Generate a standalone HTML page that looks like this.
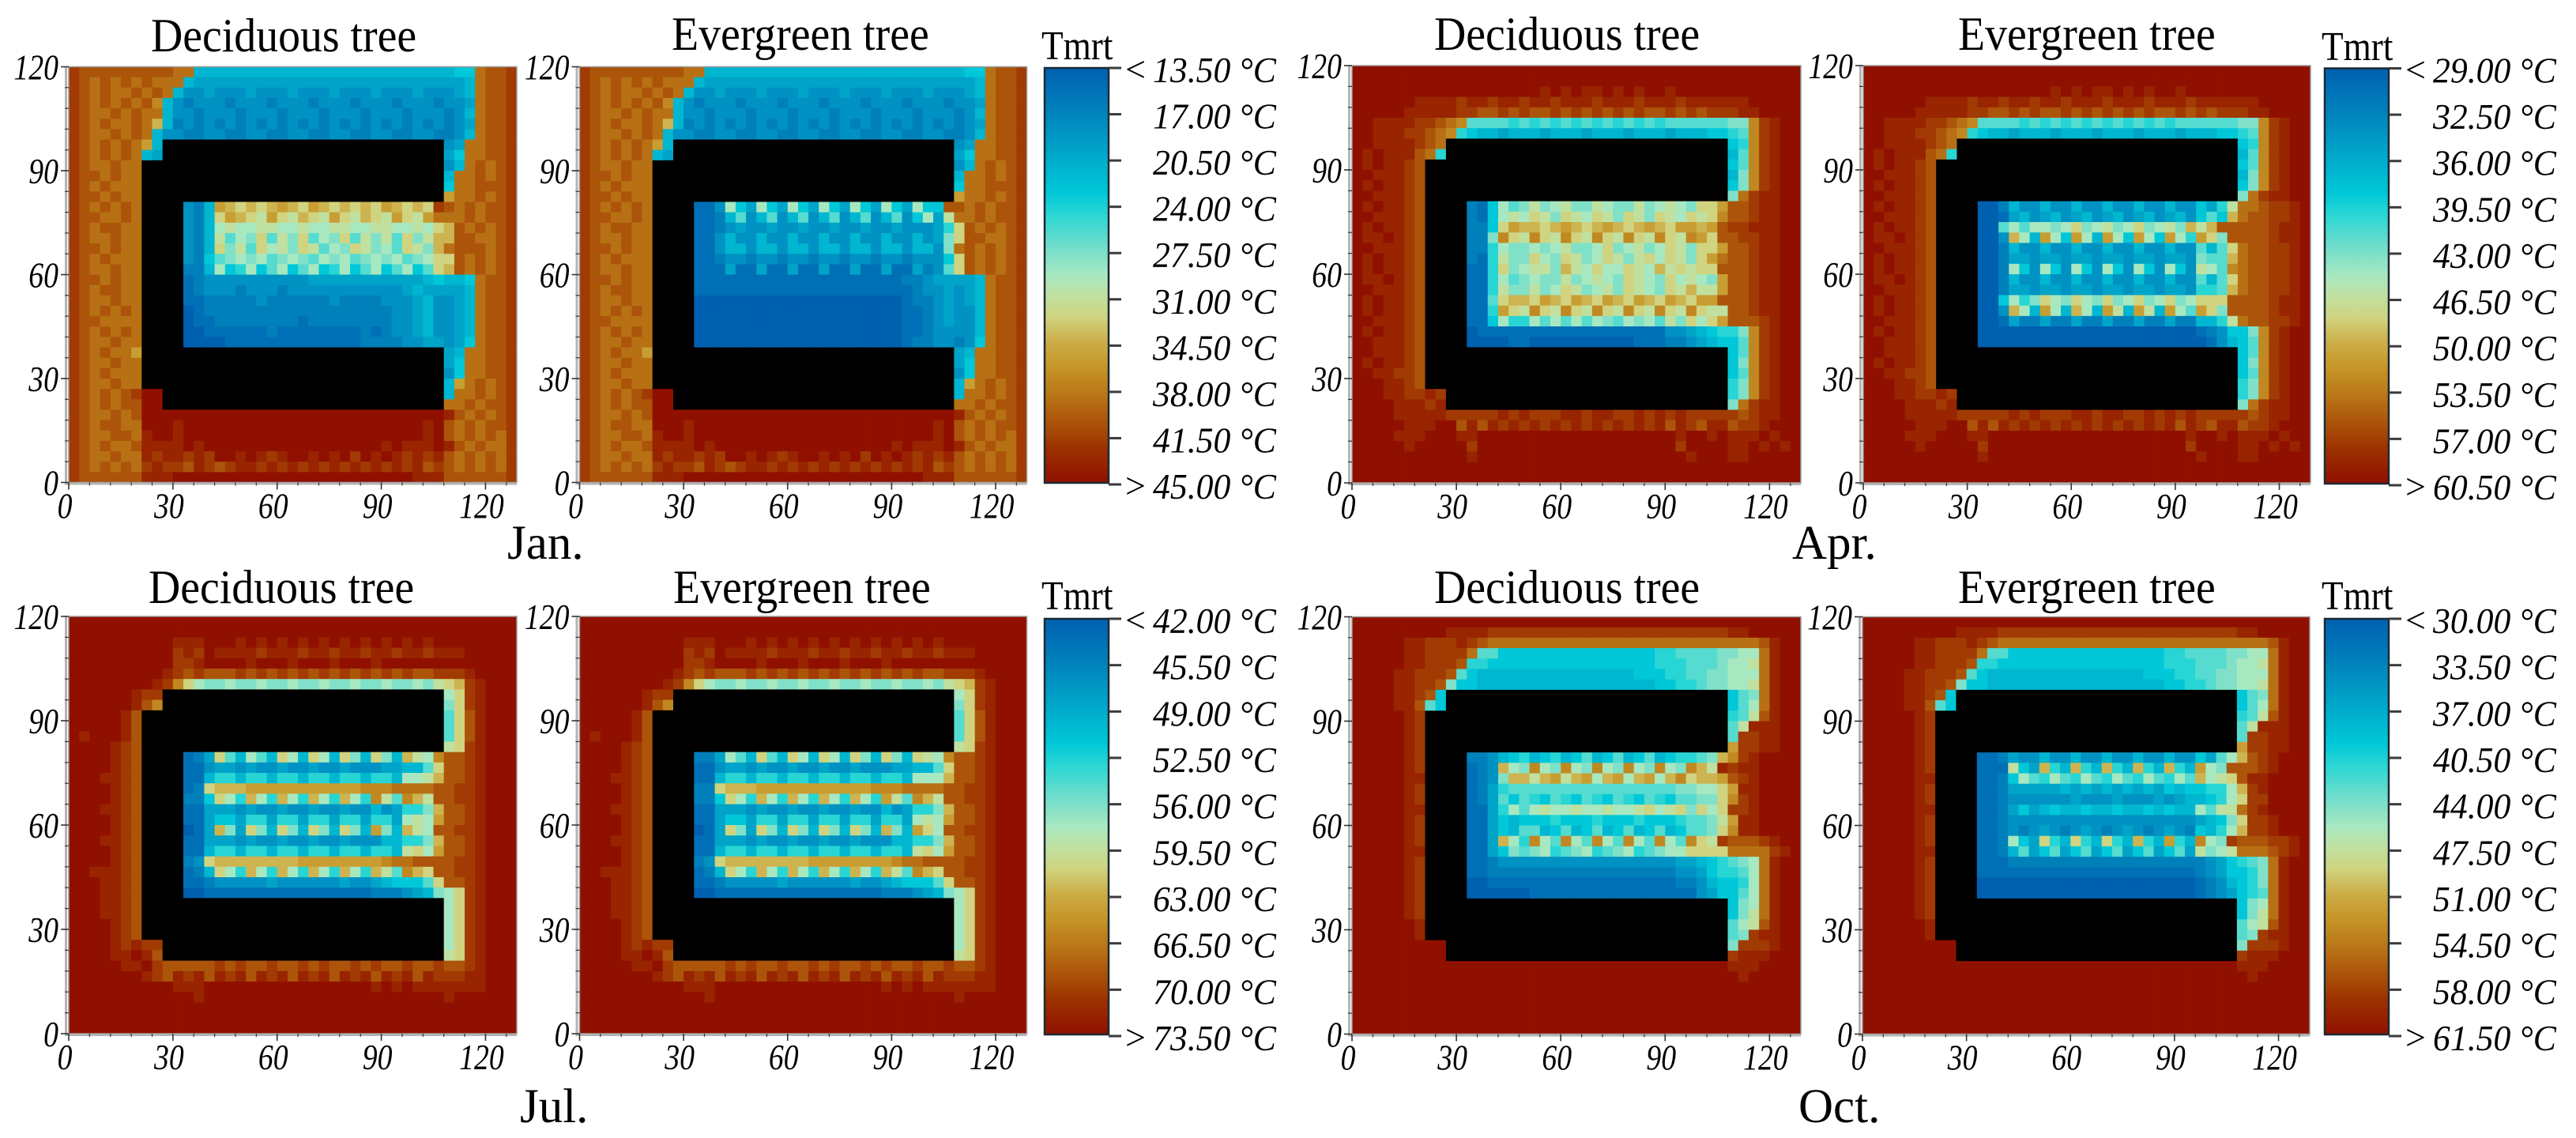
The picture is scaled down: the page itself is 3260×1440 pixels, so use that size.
<!DOCTYPE html>
<html lang="en">
<head>
<meta charset="utf-8">
<title>Tmrt heatmaps</title>
<style>
html,body{margin:0;padding:0;background:#fff;width:3260px;height:1440px;overflow:hidden}
svg{display:block}
text{font-family:"Liberation Serif",serif;fill:#000}
</style>
</head>
<body>
<svg id="fig" width="3260" height="1440" viewBox="0 0 3260 1440" xmlns="http://www.w3.org/2000/svg">
<defs>
<linearGradient id="cbGrad" x1="0" y1="0" x2="0" y2="1"></linearGradient>
</defs>
</svg>
<script>
/* Level key: each char is base-36 level 0..20 between colour bar min and max; # = building */
const A='#'.repeat(27), B='#'.repeat(29), C='####', K='k'.repeat(43);

const xTicks=[0,30,60,90,120];
const yTicks=[0,30,60,90,120];
const janRange=[13.5,45];
const aprRange=[29,60.5];
const julRange=[42,73.5];
const octRange=[30,61.5];
const janLabels=["< 13.50 °C","17.00 °C","20.50 °C","24.00 °C","27.50 °C","31.00 °C","34.50 °C","38.00 °C","41.50 °C","> 45.00 °C"];
const aprLabels=["< 29.00 °C","32.50 °C","36.00 °C","39.50 °C","43.00 °C","46.50 °C","50.00 °C","53.50 °C","57.00 °C","> 60.50 °C"];
const julLabels=["< 42.00 °C","45.50 °C","49.00 °C","52.50 °C","56.00 °C","59.50 °C","63.00 °C","66.50 °C","70.00 °C","> 73.50 °C"];
const octLabels=["< 30.00 °C","33.50 °C","37.00 °C","40.50 °C","44.00 °C","47.50 °C","51.00 °C","54.50 °C","58.00 °C","> 61.50 °C"];

const janTop=[
"ihhhhhhhhhgg555555555555555555555555566ghhi",
"ihghghghggg5444444444444444444444444445ghhi",
"ihghgghghg5334333433343334333433343334"+"5ghhi",
"ihghghghf5"+"3233323332333233323332333233"+"4ghhi",
"ihgghghgg5"+"3323332333233323332333233323"+"5ghhi",
"ihghgghgd5"+"2323232323232323232323232323"+"4ghhi",
"ihgghghg5"+"3322332233223322332233223322"+"35ghhi",
"ihghghge5"+A+"34gghhi",
"ihghghg54"+A+"46gghhi",
"ihgghgg"+B+"35ghghi",
"ihhghgg"+B+"5gghghi",
"ihghggg"+B+"6gghhhi",
"ihhghgg"+B+"egghghi"
];
const janLeft=["ihghghg","ihhgghg","ihghhgg","ihgghgg","ihhghgg","ihghggg","ihgghgg","ihhghgg","ihghhgg","ihgghgg","ihghghg","ihhgggg","ihghghg","ihgghgg"];
const janCourtD=[
"325edcdcdedcedcdcdcedcdci"+"hghghhi",
"325cedcbecbdcbecbdcbecbeg"+"gghghhi",
"325abaabbaabaabbaabbaabacdhghghi",
"325b8a9c8b9c8a9c8b9b8c9bddhhgghi",
"325c9b8cab9cb8a9cb9a8cb9dghhhghi",
"326"+"89a9a89a98a9a89a9a89a"+"c"+"chghghi",
"225a67a68a68a67a68a68a68cdhghghi",
"1233333333334444444444456"+"556ghhi",
"1233323332333333333334544"+"445ghhi",
"1122222322222232222333453"+"345ghhi",
"0122222222222222222233453"+"345ghhi",
"0112222222212222222233453"+"345ghhi",
"0011111121111111121233453"+"345ghhi",
"0000111111111111122223344"+"346ghhi"
];
const janCourtE=[
"113a64a64a64a64a64a64a66hhghghhi",
"112583583583583583583"+"6a4bgghghhi",
"112343343343343343343"+"3347chghghi",
"113533533533533533533"+"5349chhgghi",
"113553553553553553553"+"5539ghghghi",
"112332332332332332332"+"3336chghghi",
"111411411411411411411"+"4238chghghi",
"1111111111111111111122344"+"445ghhi",
"1111111111111111111112334"+"345ghhi",
"0000000000000000000012234"+"345ghhi",
"0000000000000000000011234"+"335ghhi",
"0000000000000000000011234"+"335ghhi",
"0000000000000000000011233"+"335ghhi",
"0000000000000000000012233"+"236ghhi"
];
const janBottom=[
"ihghgge"+B+"45gghhi",
"ihgghgg"+B+"46gghhi",
"ihghggg"+B+"36gghhi",
"ihgghgg"+B+"5eghghi",
"ihghghi"+"kk"+A+"5gghghi",
"ihghghh"+"kk"+A+"gghghhi",
"ihgghgh"+"kkkkkkkkkkkkkkkkkkkkkkkkkkkkk"+"jhghghi",
"ihghhgg"+"kkkjkkkkkkkkkkkkkkkkkkkkkkkjk"+"hghghhi",
"ihgghhg"+"jkkjkkkkkkkkkkkkkkkkkkkkkkkjk"+"hghghgi",
"ihghggh"+"jjjjkjkkkkkkkkkkkkkkkkkjkjjjk"+"jhghggi",
"ihgghgg"+"jijjijikkjkjijkkjkjkikjkjijij"+"hghghgi",
"ihghghg"+"ijiihjihijjijijijijijijijijhi"+"hghghgi",
"ihhhhhh"+"jjjkkkkkkkkkkkkkkkkkkkkkkkjjj"+"hhhhhhi"
];

const aprTop=[
K,
K,
"kkkkkkkkkkkkkkkkkkjkjkjjkjkjkkjkkkkkkkkkkkk",
"kkkkkkjjjjijjijjijjijjjijjjijjjijjjjjjkkkkk",
"kkkkkjjjjjiihhihihhihihihihihhihihiiijjkkkk",
"kkjjjjiihgf"+"88887878787878787878"+"8888899"+"fijkk",
"kkjjjiihgf"+"76"+"55455545554555455545"+"556678"+"fijkk",
"kkjjjjihg"+A+"67fijkk",
"kjkjjjhg7"+A+"58fijkk",
"kjkjjih"+B+"68fijkk",
"kkjjjih"+B+"59fijkk",
"kjkjjih"+B+"69fijkk",
"kkjjjih"+B+"9gijjkk"
];
const aprLeft=["kjkjjih","kkjjjih","kjkjjih","kjjkjih","kkjjjih","kjkjjih","kjkjjih","kjjkjih","kkjjjih","kjkjjih","kjkjjih","kkjjjih","kjkjjih","kkjjjih"];
const aprCourtD=[
"216a89b9ab99ba99b9aba9cce"+"hhijjkk",
"216abacb9cbacb9cb9cbacbcf"+"hhijjkk",
"226ceddcdedcdedcdedceedeh"+"iijjjkk",
"229fcbfcbfcbfcbfcbfcbfech"+"hiijjkk",
"227a99a9ab99ac9ab9acb9cce"+"hhijjkk",
"217b99ca9cb9acb9bcacb9ceg"+"hhijjkk",
"117c9abb9dbacaacbadbcbcch"+"hhijjkk",
"117a89a99b9aba9cba9caba9e"+"hhijjkk",
"117b99b9acb9ab9cba9cbdbbe"+"hhijjkk",
"118cddcedcedcedcedcedceeh"+"hhijjkk",
"117ecbfcbfcbfcbfcbfcbfcbb"+"hhijjkk",
"116a77a8a8a8a98a9a8b9cace"+"hhhijkk",
"0111111111111111111334567"+"79fijkk",
"0000110000000000111223456"+"68fijkk"
];
const aprCourtE=[
"002533533533533533533647b"+"gghiijk",
"001453453453453453453686d"+"ghhiijk",
"008a8aa9ac9ab9ac9ab9dbdhh"+"hhhijjk",
"003da5ea6ea5ea6ea6ea7ec9h"+"hhhijjk",
"002533533533533533533858c"+"ghhiijk",
"002443443443443443443988d"+"ghhiijk",
"002a63a63a63a63a63a63ba8f"+"ghhiijk",
"002533533533533533533858c"+"ghhiijk",
"002443443443443443443778d"+"ghhiijk",
"006a79ca9ca9c9ac9ac9accch"+"hhhijjk",
"003da5ea5da5eb5eb5ea8ec9h"+"hhhijjk",
"001422422422422422422557b"+"ghhiijk",
"0000000000000000000001236"+"69fijkk",
"0000000000000000000000135"+"68fijkk"
];
const aprBottom=[
"kkjjjih"+B+"68fijkk",
"kjkjjih"+B+"69fijkk",
"kkjjiih"+B+"68fijkk",
"kkkjjih"+B+"79fijkk",
"kkkjjii"+"ji"+A+"79fijkk",
"kkkkjjj"+"ij"+A+"9gijjkk",
"kkkkjjj"+"jjiiiiijijiiijjijjiijijijiiii"+"ihijjkk",
"kkkkkjj"+"jkkhjhjijijijijijijijijhjihjj"+"hiijkkk",
"kkkkjjj"+"kkkjjkkkkkkkkkkkkkkkkkkkjkkjk"+"jjjkjkk",
"kkkkkjk"+"kkkkikkkkkkkkkkkkkkkkkkkikkkk"+"jjkjkjk",
"kkkkkkk"+"kkkkjkkkkkkkkkkkkkkkkkkkkjkkk"+"jjkkkkk",
K,
K
];

const julTop=[
K,
K,
"kkkkkkkkkkjjjkkkjkjkjkjkjkjkjkjkjkjkkkkkkkk",
"kkkkkkkkkkijikjjjjijjjijjijjijjijjijjjkkkkk",
"kkkkkkkkkkiijkkkkjkkkjkkkjkkkjkkkkkkkkkkkkk",
"kkkkkkkkkjihihhhihihihihihihihihihhiiijkkkk",
"kkkkkkkkjif"+"ca99a99a99a99a99a99a99a9bcd"+"ijkkk",
"kkkkkkjii"+A+"acijkkk",
"kkkkkkjhf"+A+"9cijkkk",
"kkkkkjh"+B+"8chjkkk",
"kkkkkjh"+B+"8chjkkk",
"kjkkkjh"+B+"8chjkkk",
"kkkkjih"+B+"bcijkkk"
];
const julLeft=["kkkkjih","kkkkjih","kkkjjih","kkkkjih","kkkkjih","kkkjjih","kkkkjih","kkkkjih","kkkjjih","kkkkjih","kkkkjih","kkjjjih","kkkjjih","kkkjjih"];
const julCourtE=[
"224a85c85ca5ca5c95c95cbaf"+"hhijkkk",
"113443433433433433344558c"+"hhijkkk",
"115775775775775775775aaad"+"hhijkkk",
"22cdddeeeeeeeeeeefffggggh"+"hiijkkk",
"226ca7da7da7da7da7eb8fdbh"+"hiijkkk",
"114443433433433433534779d"+"hhijkkk",
"114664774774774774774abae"+"hhijkkk",
"014c94c95c95c95c95d95ecah"+"hiijkkk",
"114443433433433433355779d"+"hhijkkk",
"115775775775775775775bcae"+"hhijkkk",
"23cddddddddeeeeeeeefgghhh"+"hiijkkk",
"125ca7da7da7da7da7db8fdch"+"hiijkkk",
"1123333343333334334566"+"68c"+"hhijkkk",
"0011111111111111112223459"+"acijkkk"
];
const julCourtD=[
"124c85a85ca5ca5c95c95dbaf"+"hhijkkk",
"113443433433433433344558c"+"hhijkkk",
"115775775775775775775aabd"+"hhijkkk",
"12cdddeeeeeeeeeeefffggggh"+"hiijkkk",
"226ca7da7da7da7da7fb8fdbh"+"hiijkkk",
"114443433433433433534779d"+"hhijkkk",
"114664774774774774774abae"+"hhijkkk",
"014d94c95c95c95c95e95dbah"+"hiijkkk",
"114443433433433433355779d"+"hhijkkk",
"115775775775775775775bcae"+"hhijkkk",
"23cddddddddeeeeeeeefgghhh"+"hiijkkk",
"125ca7da7da7da7da7db8fdch"+"hiijkkk",
"1123333343333334334566"+"68c"+"hhijkkk",
"0011111111111111112223459"+"acijkkk"
];
const julBottom=[
"kkkjjih"+B+"acijkkk",
"kkkjjih"+B+"acijkkk",
"kkkkjih"+B+"acijkkk",
"kkkkjih"+B+"acijkkk",
"kkkkjij"+"ii"+A+"acijkkk",
"kkkkjjk"+"jh"+A+"bcijkkk",
"kkkkkjj"+"ki"+"hhhhhihihhihhihihhihihhihhi"+"hhijkkk",
"kkkkkkk"+"ji"+"hjijhjijhjijhjijhjijhjijhji"+"iijjkkk",
"kkkkkkkkkkjjjkkkkkkkkkkkkkkkkjkjkjjjjjjjkkk",
"kkkkkkkkkkkkjkkkkkkkkkkkkkkkkkkkkkkkjkkkkkk",
K,
K,
K
];

const octTop=[
K,
"kkkkkkkkkjjjjiiiiiiiiiiiiiiiiiiiiiiijjkkkkk",
"kkkkkjjiiijihgggggggggggggggggggggggggghjkk",
"kkkkkjjiiiig"+"8866666666666666677888899aa"+"gjkk",
"kkkkkjjiiih"+"7766666666666666667778889aab"+"gjkk",
"kkkkjjiiih"+"86555555555555555666778899a"+"aa"+"gjkk",
"kkkkjjiih"+"966555555555555555556677899aab"+"gjkk",
"kkkkjjih6"+A+"689gjkk",
"kkkkjjh86"+A+"68agjkk",
"kkkkkji"+B+"78bhjkk",
"kkkkkji"+B+"8bjjjkk",
"kkkkkji"+B+"8iijjkk",
"kkkkkji"+B+"eiijjkk"
];
const octLeft=["kkkkkji","kkkkkji","kkkkkjj","kkkkkji","kkkkkji","kkkkkjj","kkkkkji","kkkkkji","kkkkkji","kkkkkjj","kkkkkji","kkkkkji","kkkkkji","kkkkkji"];
const octCourtD=[
"223567567568568568567789d"+"fijkkkk",
"123da9fa9fa9fa9fa9fa9fdbj"+"ijjkkkk",
"1239ddbdebdeadeadeadfcdde"+"hijkkkk",
"1247888888888888888899aac"+"ejjkkkk",
"124868768768768768768899c"+"fijkkkk",
"1147a8abaabaabaabcabc9cac"+"iijkkkk",
"114656667666766676667889b"+"ejjkkkk",
"114658856856856856856889c"+"fjjkkkk",
"114da7fa8fa8fa8fa8fa8fcbi"+"hhhijkk",
"1146989a789a789a789aacccc"+"ggggijk",
"1123333333333333333344567"+"89agjkk",
"1122222222222222222233467"+"78agjkk",
"0011111111111111111122356"+"67agjkk",
"0000001111111111111111346"+"68agjkk"
];
const octCourtE=[
"112433533533533533533648a"+"dhijkkk",
"111b64d75d75d75d75d75ea9h"+"hhijkkk",
"1126a87a87a87a87a87a8dabc"+"hjjkkkk",
"112444445454545454656677a"+"dijkkkk",
"112333333433343334345567a"+"ciikkkk",
"112464565565565565655a8bb"+"gijkkkk",
"1123333333333333333334569"+"ciijkkk",
"112323432343234323432657a"+"diijkkk",
"112a64c75c75c75d75e75fa9i"+"hhhiijk",
"112584684684684684684b9ab"+"ggghijk",
"1112222222222222222222346"+"789gjkk",
"1111111111111111111112346"+"679gjkk",
"0000000000000000000001235"+"679gjkk",
"0000000000000000000001234"+"678gjkk"
];
const octBottom=[
"kkkkkji"+B+"69agjkk",
"kkkkkji"+B+"69bgjkk",
"kkkkkkj"+B+"8abhjkk",
"kkkkkkj"+B+"89ijjkk",
"kkkkkkk"+"kk"+A+"9iiijkk",
"kkkkkkk"+"kk"+A+"ijjjkkk",
"kkkkkkkkkkkkkkkkkkkkkkkkkkkkkkkkkkkkjjjkkkk",
"kkkkkkkkkkkkkkkkkkkkkkkkkkkkkkkkkkkkkjkkkkk",
K,K,K,K,K
];

const colorStops=[[0,"#0060b0"],[.1,"#0080bb"],[.2,"#00a4c8"],[.3,"#00c8d8"],[.36,"#30d8d4"],[.42,"#68dccc"],[.5,"#a8e8c0"],[.55,"#c0e0a0"],[.6,"#d0d480"],[.66,"#ccae48"],[.72,"#c69628"],[.8,"#b87014"],[.86,"#aa5008"],[.92,"#9c3000"],[1,"#901000"]];

function assemble(top,left,court,bottom){
  return [...top,...court.map((r,i)=>left[i]+C+r),...bottom];
}
function parseHex(h){return [1,3,5].map(i=>parseInt(h.substr(i,2),16));}
function colorScale(v,lo,hi){
  const t=Math.max(0,Math.min(1,(v-lo)/(hi-lo)));
  for(let i=1;i<colorStops.length;i++){
    if(t<=colorStops[i][0]){
      const [t0,c0]=colorStops[i-1],[t1,c1]=colorStops[i];
      const f=(t-t0)/(t1-t0),a=parseHex(c0),b=parseHex(c1);
      return 'rgb('+a.map((x,k)=>Math.round(x+(b[k]-x)*f)).join(',')+')';
    }
  }
  return colorStops[colorStops.length-1][1];
}

const NS='http://www.w3.org/2000/svg';
const fig=document.getElementById('fig');
const grad=document.getElementById('cbGrad');
colorStops.forEach(s=>{
  const st=document.createElementNS(NS,'stop');
  st.setAttribute('offset',s[0]);
  st.setAttribute('stop-color',s[1]);
  grad.appendChild(st);
});
function mk(tag,parent,attrs){
  const el=document.createElementNS(NS,tag);
  for(const k in attrs)el.setAttribute(k,attrs[k]);
  parent.appendChild(el);
  return el;
}
function label(parent,str,x,y,size,opts){
  opts=opts||{};
  const el=mk('text',parent,{transform:'translate('+x+','+y+') scale('+(opts.sx||1)+',1)','font-size':size,'text-anchor':opts.anchor||'start','font-style':opts.italic?'italic':'normal'});
  el.textContent=str;
  return el;
}

const XMAX=129,YMAX=120,NCOLS=43,NROWS=40,CELL=3;

function drawPanel(rows,range,box,titleText,titleX,titleY){
  const g=mk('g',fig,{});
  
  
  const xScale=v=>box.x+v/XMAX*box.w;
  const yScale=v=>box.y+box.h-v/YMAX*box.h;
  for(let r=0;r<NROWS;r++){
    const row=rows[r];
    for(let c=0;c<NCOLS;c++){
      const ch=row[c]===undefined?'k':row[c];
      const x0=xScale(c*CELL),x1=xScale((c+1)*CELL);
      const yTop=yScale(YMAX-r*CELL),yBot=yScale(YMAX-(r+1)*CELL);
      let fill;
      if(ch==='#'){fill='#000';}
      else{
        const level=parseInt(ch,36);
        const temp=range[0]+level/20*(range[1]-range[0]);
        fill=colorScale(temp,range[0],range[1]);
      }
      const cell=mk('rect',g,{x:x0.toFixed(2),y:yTop.toFixed(2),width:(x1-x0+0.4).toFixed(2),height:(yBot-yTop+0.4).toFixed(2),fill:fill});
      
      
    }
  }
  const frame=mk('rect',g,{x:box.x,y:box.y,width:box.w,height:box.h,fill:'none',stroke:'#9a9a9a','stroke-width':1.5});
  
  
  const xBand=mk('rect',g,{x:box.x-5,y:box.y+box.h,width:box.w+5,height:3,fill:'#b4b4b4'});
  
  
  const yBand=mk('rect',g,{x:box.x-5,y:box.y,width:3,height:box.h+3,fill:'#b4b4b4'});
  
  
  for(let v=0;v<=XMAX;v+=6){
    const major=xTicks.includes(v);
    const t=mk('line',g,{x1:xScale(v),x2:xScale(v),y1:box.y+box.h,y2:box.y+box.h+(major?9:4),stroke:'#333','stroke-width':major?1.6:1.2});
    
    
  }
  for(let v=0;v<=YMAX;v+=6){
    const major=yTicks.includes(v);
    const t=mk('line',g,{x1:box.x,x2:box.x-(major?10:5),y1:yScale(v),y2:yScale(v),stroke:'#333','stroke-width':major?1.6:1.2});
    
    
  }
  xTicks.forEach(v=>{
    const t=label(g,String(v),xScale(v)-5,box.y+box.h+45,46,{italic:true,anchor:'middle',sx:.82});
    
    
  });
  yTicks.forEach(v=>{
    const t=label(g,String(v),box.x-13,yScale(v)+16,46,{italic:true,anchor:'end',sx:.82});
    
    
  });
  const title=label(g,titleText,titleX,titleY,60,{sx:.93});
  
  
}

function drawColorbar(labels,x,y,h,tmrtY){
  const g=mk('g',fig,{});
  
  
  const w=81;
  const title=label(g,'Tmrt',x-4,tmrtY,52,{sx:.87});
  
  
  const bar=mk('rect',g,{x:x,y:y,width:w,height:h,fill:'url(#cbGrad)',stroke:'#1c2a33','stroke-width':2.5});
  
  
  labels.forEach((s,i)=>{
    const ty=y+i*(h+2)/(labels.length-1);
    const tick=mk('line',g,{x1:x+w,x2:x+w+16,y1:ty,y2:ty,stroke:'#3a3a3a','stroke-width':3});
    
    
    const m=s.match(/^([<>]) (.*)$/);
    if(m){
      const sym=label(g,m[1],x+w+21,ty+17,46);
      
      
    }
    const t=label(g,m?m[2]:s,x+w+56,ty+18,46,{italic:true,sx:.95});
    
    
  });
}

function monthLabel(s,x,y){
  const t=label(fig,s,x,y,61);
  
  
}

drawPanel(assemble(janTop,janLeft,janCourtD,janBottom),janRange,{x:87,y:84.5,w:567,h:526},'Deciduous tree',191,65);
drawPanel(assemble(janTop,janLeft,janCourtE,janBottom),janRange,{x:733.5,y:84.5,w:566,h:526},'Evergreen tree',850,63);
drawColorbar(janLabels,1322,86,525,75);
monthLabel('Jan.',642,707);

drawPanel(assemble(aprTop,aprLeft,aprCourtD,aprBottom),aprRange,{x:1711,y:83,w:568,h:528},'Deciduous tree',1815,63);
drawPanel(assemble(aprTop,aprLeft,aprCourtE,aprBottom),aprRange,{x:2358,y:83,w:566,h:528},'Evergreen tree',2478,63);
drawColorbar(aprLabels,2942,86.5,525.5,76);
monthLabel('Apr.',2268,707);

drawPanel(assemble(julTop,julLeft,julCourtD,julBottom),julRange,{x:87,y:780,w:567,h:528},'Deciduous tree',188,763);
drawPanel(assemble(julTop,julLeft,julCourtE,julBottom),julRange,{x:733.5,y:780,w:566,h:528},'Evergreen tree',852,763);
drawColorbar(julLabels,1322,783,526,771);
monthLabel('Jul.',658,1420);

drawPanel(assemble(octTop,octLeft,octCourtD,octBottom),octRange,{x:1711,y:780.5,w:568,h:528},'Deciduous tree',1815,763);
drawPanel(assemble(octTop,octLeft,octCourtE,octBottom),octRange,{x:2357,y:780.5,w:566,h:528},'Evergreen tree',2478,763);
drawColorbar(octLabels,2942,783,526,771);
monthLabel('Oct.',2276,1420);
</script>
</body>
</html>
